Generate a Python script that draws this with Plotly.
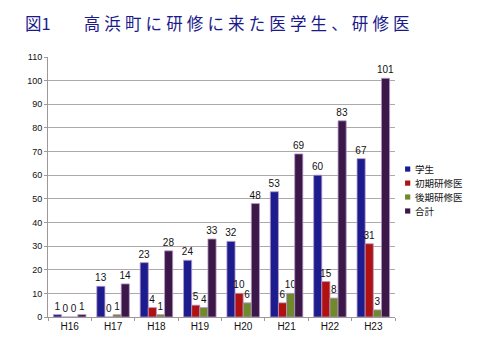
import plotly.graph_objects as go

categories = ["H16", "H17", "H18", "H19", "H20", "H21", "H22", "H23"]
gakusei = [1, 13, 23, 24, 32, 53, 60, 67]
shoki = [0, 0, 4, 5, 10, 6, 15, 31]
kouki = [0, 1, 1, 4, 6, 10, 8, 3]
goukei = [1, 14, 28, 33, 48, 69, 83, 101]
series_names = ["学生", "初期研修医", "後期研修医", "合計"]
colors = ["#1c1c8e", "#b01212", "#6e8a2c", "#3b1848"]

title_text = "図1" + "\u3000\u3000" + "\u2005".join("高浜町に研修に来た医学生、研修医")

fig = go.Figure()
for name, vals, c in zip(series_names, [gakusei, shoki, kouki, goukei], colors):
    fig.add_trace(go.Bar(
        x=categories, y=vals, name=name, showlegend=False,
        marker=dict(color=c, line=dict(color="#b898c8", width=0.8)),
        text=[str(v) for v in vals], textposition="outside",
        constraintext="none",
        textfont=dict(size=10, color="#111111", family="Liberation Sans"),
        cliponaxis=False,
    ))

# hand-made legend (small squares + labels) to the right of the plot
legend_y = [0.569, 0.515, 0.4615, 0.4077]
for name, c, yy in zip(series_names, colors, legend_y):
    fig.add_shape(type="rect", xref="paper", yref="paper",
                  x0=1.029, x1=1.044, y0=yy - 0.01, y1=yy + 0.01,
                  fillcolor=c, line=dict(width=0))
    fig.add_annotation(x=1.051, y=yy, xref="paper", yref="paper",
                       xanchor="left", yanchor="middle", showarrow=False,
                       text=name, font=dict(size=9.5, color="#111111",
                                            family="Noto Sans CJK JP"))

fig.update_layout(
    width=472, height=352,
    margin=dict(l=40, r=85, t=49, b=43, autoexpand=False),
    paper_bgcolor="white", plot_bgcolor="white",
    barmode="group", bargap=0.25, bargroupgap=0,
    showlegend=False,
    title=dict(text=title_text,
               x=0.036, xanchor="left", y=0.955, yanchor="middle",
               font=dict(size=16.5, color="#1a1a8a", family="Noto Sans CJK JP")),
    font=dict(family="Liberation Sans", size=9, color="#111111"),
)
fig.update_yaxes(range=[0, 110], dtick=10, showgrid=True, gridcolor="#b0a8a8",
                 gridwidth=1, showline=True, linecolor="#a09898", ticks="outside",
                 ticklen=3, tickcolor="#a09898", tickfont=dict(size=9), zeroline=False)
fig.update_xaxes(showline=True, linecolor="#a09898", ticks="outside", tickson="boundaries",
                 ticklen=3, tickcolor="#a09898", tickfont=dict(size=10))

fig.write_html("out.html")
